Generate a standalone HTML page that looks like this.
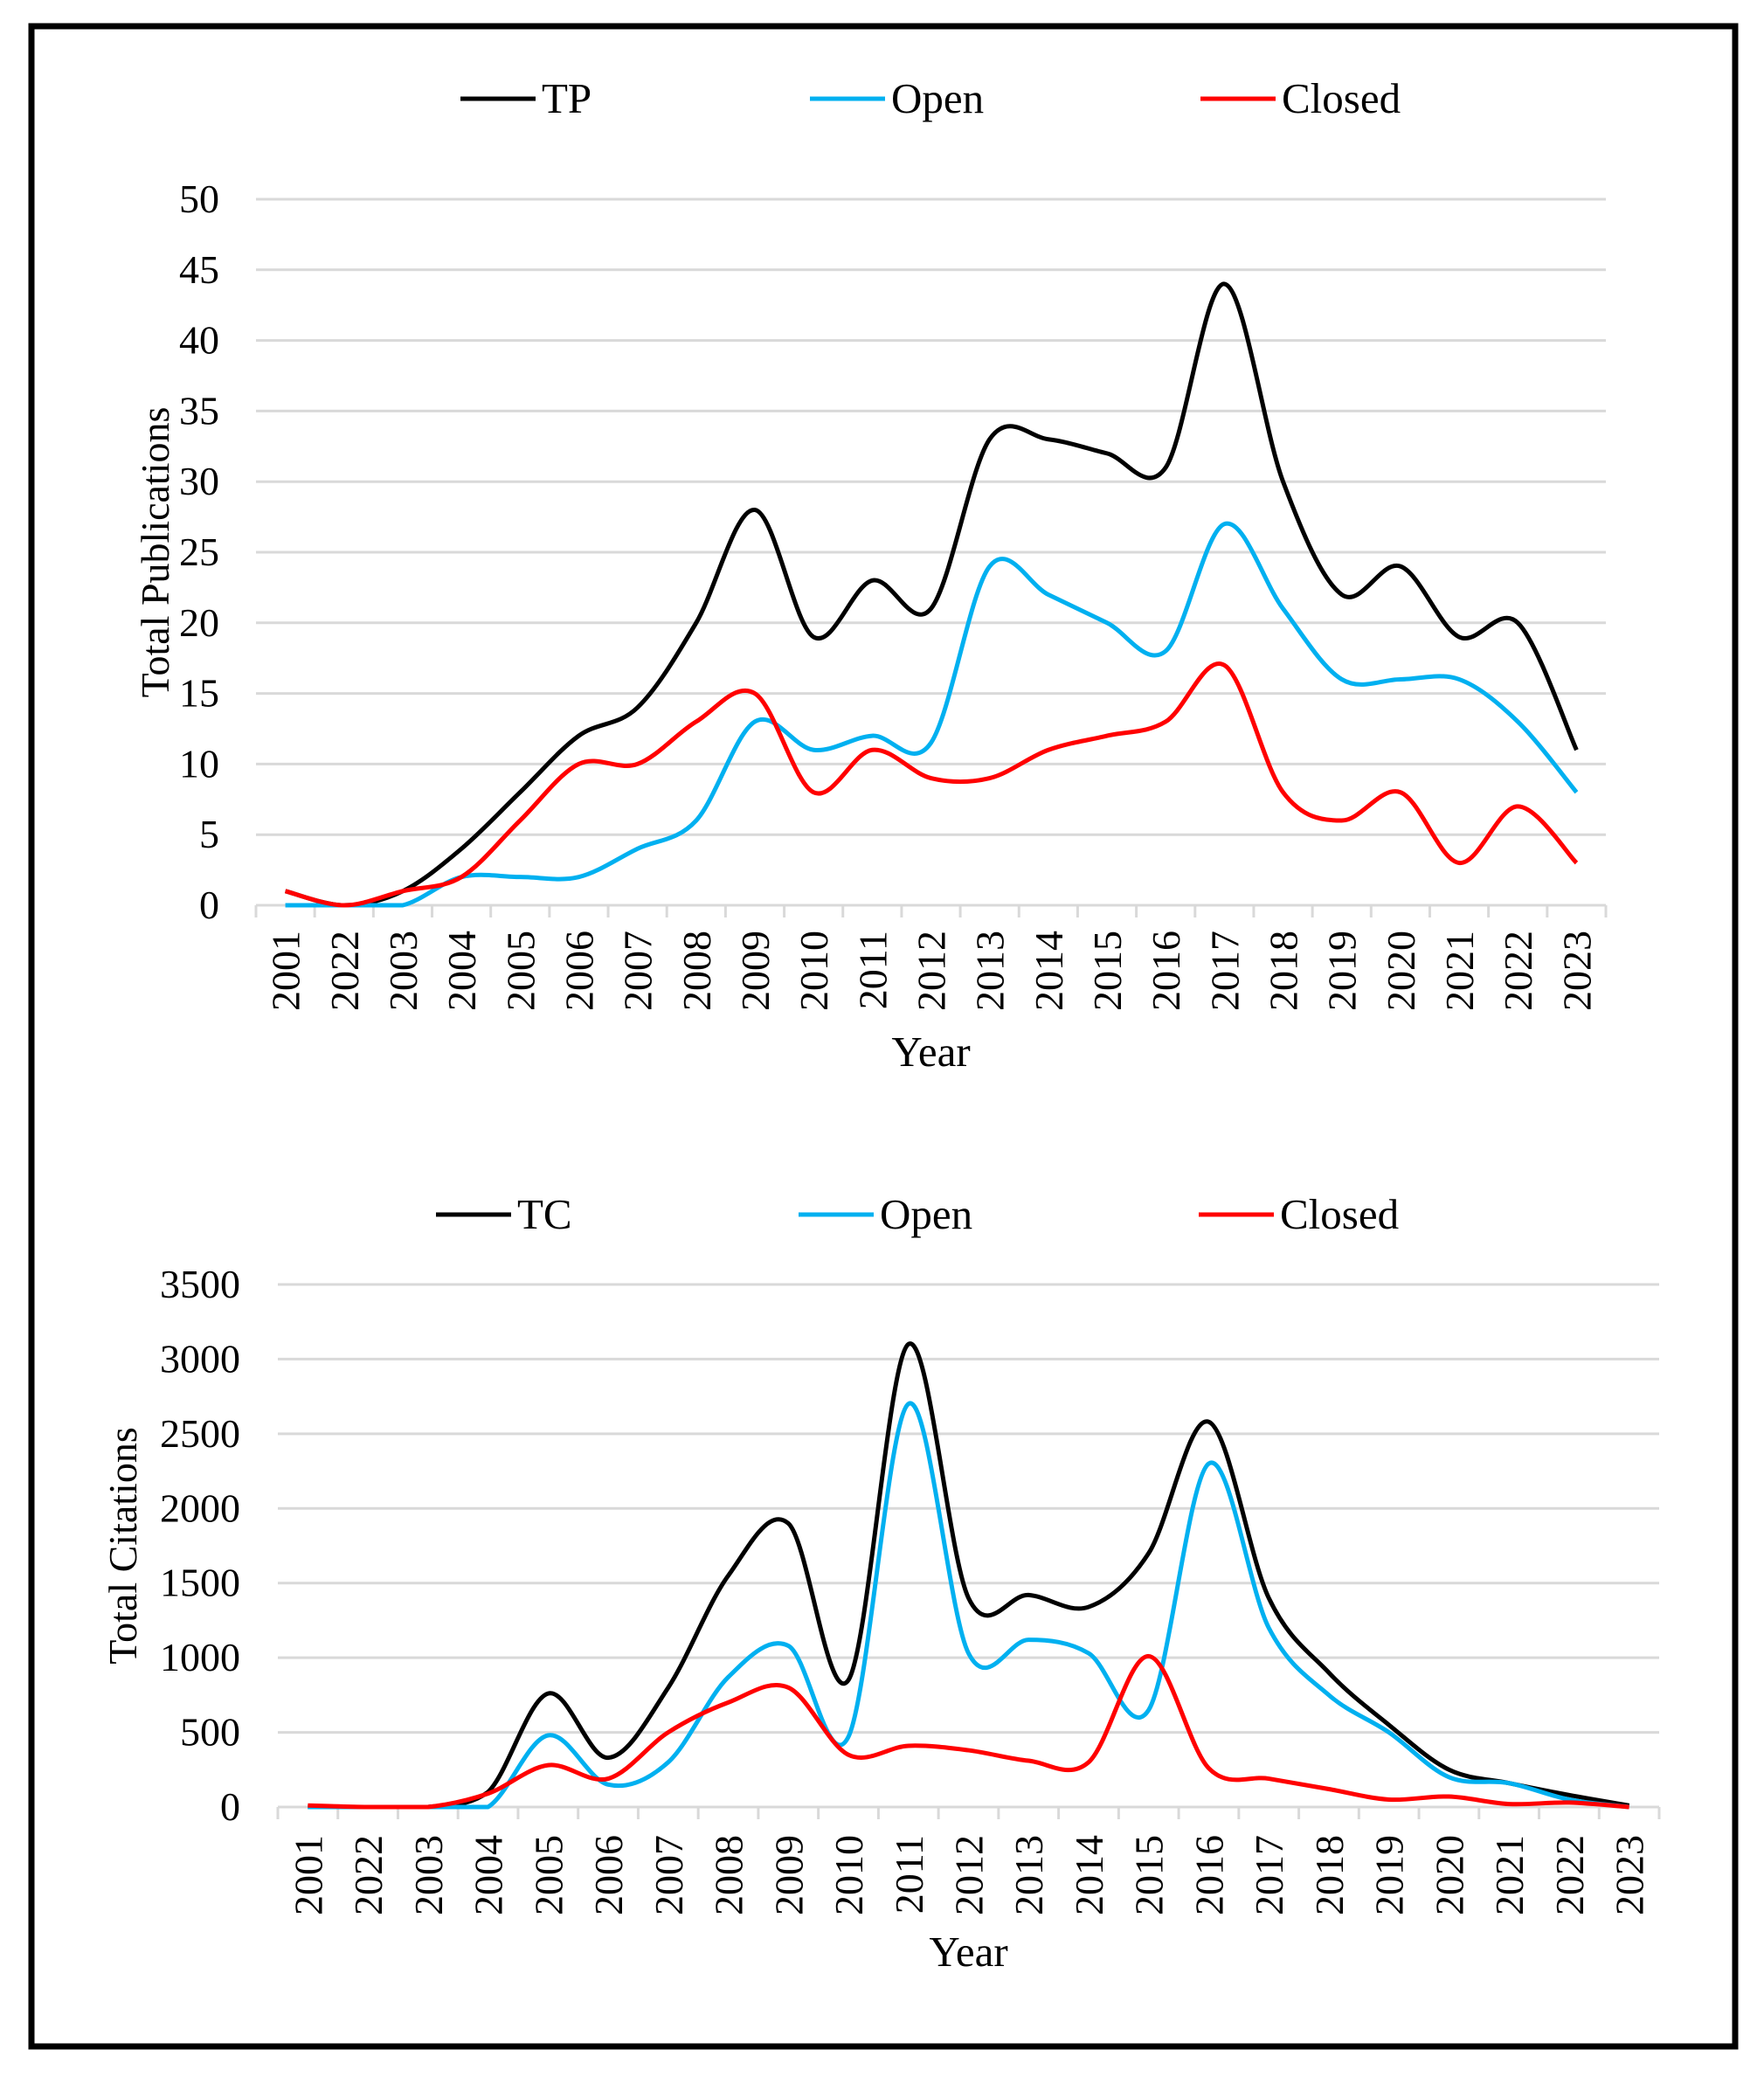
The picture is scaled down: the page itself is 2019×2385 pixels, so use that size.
<!DOCTYPE html>
<html><head><meta charset="utf-8">
<style>
html,body{margin:0;padding:0;background:#fff;}
svg{display:block;}
text{font-family:"Liberation Serif",serif;fill:#000;}
</style></head>
<body>
<svg id="svg" width="2019" height="2385" viewBox="0 0 2019 2385" xmlns="http://www.w3.org/2000/svg">
<rect x="36" y="30" width="1950" height="2312" fill="#fff" stroke="#000" stroke-width="7"/>
<g id="c1"></g>
<g id="c2"></g>
</svg>
<script>
const categories = ["2001","2022","2003","2004","2005","2006","2007","2008","2009","2010","2011","2012","2013","2014","2015","2016","2017","2018","2019","2020","2021","2022","2023"];
const tpValues = [1,0,1,4,8,12,14,20,28,19,23,21,33,33,32,31,44,30,22,24,19,20,11];
const tpOpen = [0,0,0,2,2,2,4,6,13,11,12,11.5,24,22,20,18,27,21,16,16,16,13,8];
const tpClosed = [1,0,1,2,6,10,10,13,15,8,11,9,9,11,12,13,17,8,6,8,3,7,3];
const tpTicks = [0,5,10,15,20,25,30,35,40,45,50];
const tcValues = [0,0,0,100,760,330,800,1550,1900,850,3100,1400,1420,1340,1700,2580,1400,900,550,250,160,80,10];
const tcOpen = [0,0,0,0,480,150,300,870,1080,470,2700,1030,1120,1030,650,2300,1200,750,500,200,160,50,0];
const tcClosed = [10,0,0,90,280,190,500,700,800,350,410,380,310,300,1010,260,190,120,50,70,20,30,0];
const tcTicks = [0,500,1000,1500,2000,2500,3000,3500];

const NS="http://www.w3.org/2000/svg";
function mk(parent,tag,attrs){const e=document.createElementNS(NS,tag);for(const k in attrs)e.setAttribute(k,attrs[k]);parent.appendChild(e);return e;}

function smooth(pts,yMax){
  let d="M"+pts[0][0]+","+pts[0][1];
  for(let i=0;i<pts.length-1;i++){
    const p0=pts[Math.max(0,i-1)],p1=pts[i],p2=pts[i+1],p3=pts[Math.min(pts.length-1,i+2)];
    const t=1/6;
    const c1x=p1[0]+(p2[0]-p0[0])*t,c1y=Math.min(yMax,p1[1]+(p2[1]-p0[1])*t);
    const c2x=p2[0]-(p3[0]-p1[0])*t,c2y=Math.min(yMax,p2[1]-(p3[1]-p1[1])*t);
    d+=" C"+c1x+","+c1y+" "+c2x+","+c2y+" "+p2[0]+","+p2[1];
  }
  return d;
}

function drawChart(g,cfg){
  const {x0,x1,y0,yTop,maxV,ticks,series,labelRight,legend,yTitle,yTitleX,labelTop,yearY}=cfg;
  const band=(x1-x0)/categories.length;
  const xs=i=>x0+band*(i+0.5);
  const ys=v=>y0-(v/maxV)*(y0-yTop);
  ticks.forEach(t=>{
    const l=mk(g,"line",{x1:x0,x2:x1,y1:ys(t),y2:ys(t),stroke:"#d9d9d9","stroke-width":3});
    
    
    const tx=mk(g,"text",{x:labelRight,y:ys(t)+15,"text-anchor":"end","font-size":46});
    tx.textContent=t;
    
    
  });
  for(let i=0;i<=categories.length;i++){
    const tk=mk(g,"line",{x1:x0+band*i,x2:x0+band*i,y1:y0,y2:y0+14,stroke:"#d9d9d9","stroke-width":3});
    
    
  }
  categories.forEach((c,i)=>{
    const tx=mk(g,"text",{x:0,y:0,"text-anchor":"end","font-size":46,transform:`translate(${xs(i)+16},${labelTop}) rotate(-90)`});
    tx.textContent=c;
    
    
  });
  series.forEach(s=>{
    const p=mk(g,"path",{d:smooth(s.vals.map((v,i)=>[xs(i),ys(v)]),y0),fill:"none",stroke:s.color,"stroke-width":5,"stroke-linejoin":"round"});
    
    
  });
  legend.forEach(L=>{
    const lg=mk(g,"g",{});
    
    
    mk(lg,"line",{x1:L.x,x2:L.x+86,y1:L.y,y2:L.y,stroke:L.color,"stroke-width":5});
    const t=mk(lg,"text",{x:L.x+93,y:L.y+16,"font-size":49});
    t.textContent=L.label;
  });
  const yt=mk(g,"text",{x:0,y:0,"text-anchor":"middle","font-size":46,transform:`translate(${yTitleX},${(y0+yTop)/2}) rotate(-90)`});
  yt.textContent=yTitle;
  
  
  const xt=mk(g,"text",{x:(x0+x1)/2,y:yearY,"text-anchor":"middle","font-size":49});
  xt.textContent="Year";
  
  
}

drawChart(document.getElementById("c1"),{
  x0:293,x1:1838,y0:1036,yTop:228,maxV:50,ticks:tpTicks,labelRight:251,labelTop:1065,yearY:1220,
  yTitle:"Total Publications",yTitleX:193,
  series:[{vals:tpValues,color:"#000",name:"tp-line"},{vals:tpOpen,color:"#00b0f0",name:"tp-open-line"},{vals:tpClosed,color:"#ff0000",name:"tp-closed-line"}],
  legend:[{x:527,y:113,color:"#000",label:"TP"},{x:927,y:113,color:"#00b0f0",label:"Open"},{x:1374,y:113,color:"#ff0000",label:"Closed"}]
});
drawChart(document.getElementById("c2"),{
  x0:318,x1:1899,y0:2068,yTop:1470,maxV:3500,ticks:tcTicks,labelRight:275,labelTop:2100,yearY:2250,
  yTitle:"Total Citations",yTitleX:156,
  series:[{vals:tcValues,color:"#000",name:"tc-line"},{vals:tcOpen,color:"#00b0f0",name:"tc-open-line"},{vals:tcClosed,color:"#ff0000",name:"tc-closed-line"}],
  legend:[{x:499,y:1390,color:"#000",label:"TC"},{x:914,y:1390,color:"#00b0f0",label:"Open"},{x:1372,y:1390,color:"#ff0000",label:"Closed"}]
});
</script>
</body></html>
